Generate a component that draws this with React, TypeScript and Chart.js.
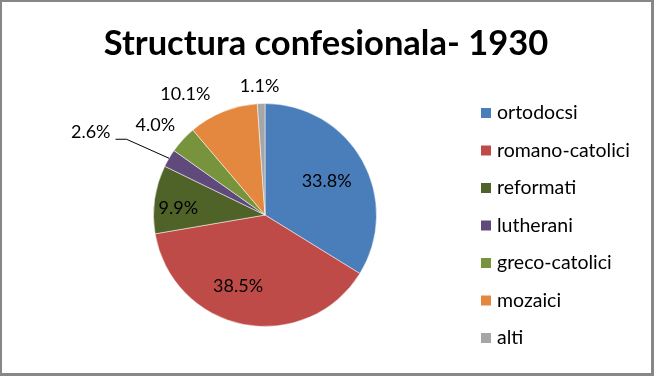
import React, { useEffect, useRef } from "react";
import { Chart, registerables } from "chart.js";

Chart.register(...registerables);

const titleText = "Structura confesionala- 1930";
const categories = ["ortodocsi", "romano-catolici", "reformati", "lutherani", "greco-catolici", "mozaici", "alti"];
const shares = [33.8, 38.5, 9.9, 2.6, 4.0, 10.1, 1.1];
const sliceColors = ["#4A7EBB", "#BE4B48", "#4F6228", "#604A7B", "#77933C", "#E4873F", "#A6A6A6"];
// label placement relative to each slice: radius factor, angular shift (deg), leader line
const labelRadius = [0.63, 0.68, 0.78, 1.73, 1.27, 1.3, 1.16];
const labelShift = [0.5, 9.8, -3.5, -5.2, -3.2, -11.2, -0.4];
const labelLeader = [false, false, false, true, false, false, false];

const FONT = "Lato, 'Open Sans', sans-serif";

const overlay = {
  id: "overlay",
  beforeDraw(chart: any) {
    const ctx = chart.ctx;
    ctx.save();
    ctx.fillStyle = "#ffffff";
    ctx.fillRect(0, 0, chart.width, chart.height);
    ctx.restore();
  },
  afterDraw(chart: any) {
    const ctx = chart.ctx;
    const W = chart.width, H = chart.height;
    ctx.save();
    // border
    ctx.strokeStyle = "#878787";
    ctx.lineWidth = 2;
    ctx.strokeRect(1, 1, W - 2.5, H - 2.5);
    ctx.fillStyle = "#878787";
    ctx.fillRect(W - 3, 0, 3, H);
    ctx.fillRect(0, H - 3, W, 3);

    // title
    ctx.fillStyle = "#000";
    ctx.font = `bold 34.5px ${FONT}`;
    ctx.textAlign = "center";
    ctx.textBaseline = "middle";
    ctx.fillText(titleText, 326, 44);

    // data labels
    const meta = chart.getDatasetMeta(0);
    ctx.font = `18px ${FONT}`;
    meta.data.forEach((arc: any, i: number) => {
      const { x, y, startAngle, endAngle, outerRadius } = arc.getProps(["x", "y", "startAngle", "endAngle", "outerRadius"], true);
      const mid = (startAngle + endAngle) / 2;
      const a = mid + (labelShift[i] * Math.PI) / 180;
      const r = outerRadius * labelRadius[i];
      const lx = x + Math.cos(a) * r;
      const ly = y + Math.sin(a) * r;
      const txt = shares[i].toFixed(1) + "%";
      ctx.fillStyle = "#000";
      ctx.textAlign = "center";
      ctx.textBaseline = "middle";
      ctx.fillText(txt, lx, ly);
      if (labelLeader[i]) {
        const w = ctx.measureText(txt).width;
        const sx = lx + w / 2 + 5;
        const sy = ly + 7;
        const ex = x + Math.cos(mid) * outerRadius;
        const ey = y + Math.sin(mid) * outerRadius;
        ctx.strokeStyle = "#000";
        ctx.lineWidth = 1;
        ctx.beginPath();
        ctx.moveTo(sx, sy);
        ctx.lineTo(sx + 11, sy);
        ctx.lineTo(ex, ey);
        ctx.stroke();
      }
    });

    // legend
    ctx.font = `19.5px ${FONT}`;
    ctx.textAlign = "left";
    ctx.textBaseline = "middle";
    categories.forEach((c, i) => {
      const cy = 113 + i * 37.5;
      ctx.fillStyle = sliceColors[i];
      ctx.fillRect(481, cy - 5, 10, 10);
      ctx.fillStyle = "#000";
      ctx.fillText(c, 497, cy);
    });
    ctx.restore();
  },
};

export default function App() {
  const ref = useRef<HTMLCanvasElement | null>(null);
  useEffect(() => {
    if (!ref.current) return;
    const chart = new Chart(ref.current, {
      type: "pie",
      data: {
        labels: categories,
        datasets: [
          {
            data: shares,
            backgroundColor: sliceColors,
            borderColor: "rgba(255,255,255,0.5)",
            borderWidth: 1,
          },
        ],
      },
      options: {
        animation: false,
        responsive: false,
        events: [],
        layout: { padding: { left: 153, right: 277, top: 103, bottom: 49 } },
        plugins: {
          legend: { display: false },
          title: { display: false },
          tooltip: { enabled: false },
        },
      },
      plugins: [overlay],
    });
    return () => chart.destroy();
  }, []);
  return (
    <div style={{ position: "absolute", left: 0, top: 0, width: 654, height: 376 }}>
      <canvas ref={ref} width={654} height={376} style={{ width: 654, height: 376 }} />
    </div>
  );
}
